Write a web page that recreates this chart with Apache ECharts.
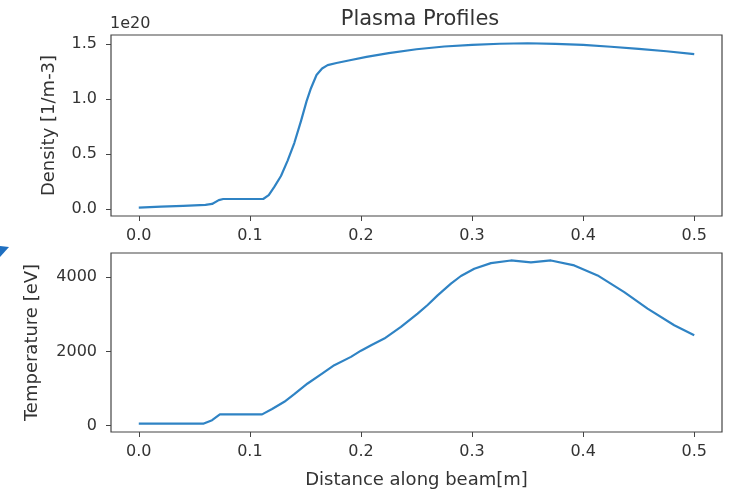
<!DOCTYPE html>
<html>
<head>
    <meta charset="utf-8">
    <title>Plasma Profiles</title>
    <script src="https://cdn.jsdelivr.net/npm/echarts@6/dist/echarts.min.js"></script>
    <style type="text/css">
        html, body { margin: 0; padding: 0; background: #fff; }
        #main { width: 731px; height: 498px; }
    </style>
</head>
<body>
<div id="main"></div>
<script type="text/javascript">
    // distance along beam [m] and density [1e20 m^-3]
    var densX = [0.000, 0.020, 0.040, 0.060, 0.066, 0.072, 0.076, 0.090, 0.112, 0.117,
        0.122, 0.128, 0.134, 0.140, 0.146, 0.151, 0.155, 0.160, 0.165, 0.170,
        0.178, 0.190, 0.205, 0.225, 0.250, 0.275, 0.300, 0.325, 0.350, 0.375,
        0.400, 0.425, 0.450, 0.475, 0.500];
    var densY = [0.012, 0.020, 0.028, 0.037, 0.045, 0.080, 0.090, 0.090, 0.090, 0.125,
        0.200, 0.300, 0.440, 0.600, 0.800, 0.980, 1.100, 1.220, 1.280, 1.310,
        1.330, 1.355, 1.385, 1.420, 1.455, 1.480, 1.495, 1.505, 1.510, 1.505,
        1.495, 1.478, 1.458, 1.437, 1.410];

    // distance along beam [m] and temperature [eV]
    var tempX = [0.000, 0.030, 0.058, 0.066, 0.073, 0.090, 0.111, 0.120, 0.131, 0.140,
        0.152, 0.165, 0.176, 0.191, 0.200, 0.210, 0.221, 0.236, 0.251, 0.260,
        0.269, 0.281, 0.290, 0.302, 0.317, 0.335, 0.353, 0.371, 0.392, 0.413,
        0.437, 0.458, 0.482, 0.500];
    var tempY = [54, 54, 54, 150, 305, 305, 305, 450, 645, 850,
        1137, 1400, 1630, 1853, 2020, 2180, 2346, 2658, 3017, 3250,
        3509, 3823, 4030, 4225, 4376, 4448, 4395, 4448, 4314, 4046,
        3597, 3152, 2703, 2435];

    var xTicks = [0, 0.1, 0.2, 0.3, 0.4, 0.5];
    var densTicks = [0, 0.5, 1.0, 1.5];
    var tempTicks = [0, 2000, 4000];

    function pairs(xs, ys) {
        return xs.map(function (x, i) { return [x, ys[i]]; });
    }

    var font = 'DejaVu Sans';
    var txt = '#333';
    var frame = '#444';
    var lineColor = '#2f83c4';

    function xAxisCfg(idx, name) {
        return {
            type: 'value', gridIndex: idx, min: -0.025, max: 0.525,
            splitLine: {show: false},
            axisLine: {show: false, onZero: false},
            axisTick: {show: true, customValues: xTicks, length: 5, lineStyle: {color: frame}},
            axisLabel: {customValues: xTicks, margin: 12, color: txt, fontSize: 16, fontFamily: font,
                formatter: function (v) { return v.toFixed(1); }},
            name: name, nameLocation: 'middle', nameGap: 39,
            nameTextStyle: {color: txt, fontSize: 18, fontFamily: font}
        };
    }

    function yAxisCfg(idx, min, max, ticks, name, gap, fmt) {
        return {
            type: 'value', gridIndex: idx, min: min, max: max,
            splitLine: {show: false},
            axisLine: {show: false, onZero: false},
            axisTick: {show: true, customValues: ticks, length: 5, lineStyle: {color: frame}},
            axisLabel: {customValues: ticks, margin: 14, color: txt, fontSize: 16, fontFamily: font,
                formatter: fmt},
            name: name, nameLocation: 'middle', nameGap: gap,
            nameTextStyle: {color: txt, fontSize: 18, fontFamily: font}
        };
    }

    var chart = echarts.init(document.getElementById('main'));
    chart.setOption({
        animation: false,
        title: {
            text: 'Plasma Profiles', left: 415, top: 4, textAlign: 'center',
            textStyle: {color: txt, fontSize: 21, fontWeight: 'normal', fontFamily: font}
        },
        grid: [
            {left: 111, top: 35, width: 611, height: 181, show: true, borderColor: frame, borderWidth: 1.2},
            {left: 111, top: 253, width: 611, height: 179, show: true, borderColor: frame, borderWidth: 1.2}
        ],
        xAxis: [xAxisCfg(0, ''), xAxisCfg(1, 'Distance along beam[m]')],
        yAxis: [
            yAxisCfg(0, -0.065, 1.585, densTicks, 'Density [1/m-3]', 53,
                function (v) { return v.toFixed(1); }),
            yAxisCfg(1, -169, 4649, tempTicks, 'Temperature [eV]', 70,
                function (v) { return String(v); })
        ],
        graphic: [
            {type: 'text', left: 110, top: 16,
                style: {text: '1e20', fill: txt, fontSize: 16, fontFamily: font}},
            {type: 'polygon', shape: {points: [[0, 246], [9, 247], [0, 257]]},
                style: {fill: '#1f6fc0'}}
        ],
        series: [
            {type: 'line', xAxisIndex: 0, yAxisIndex: 0, data: pairs(densX, densY),
                showSymbol: false, smooth: false,
                lineStyle: {color: lineColor, width: 2.2, join: 'round'}},
            {type: 'line', xAxisIndex: 1, yAxisIndex: 1, data: pairs(tempX, tempY),
                showSymbol: false, smooth: false,
                lineStyle: {color: lineColor, width: 2.2, join: 'round'}}
        ]
    });
</script>
</body>
</html>
